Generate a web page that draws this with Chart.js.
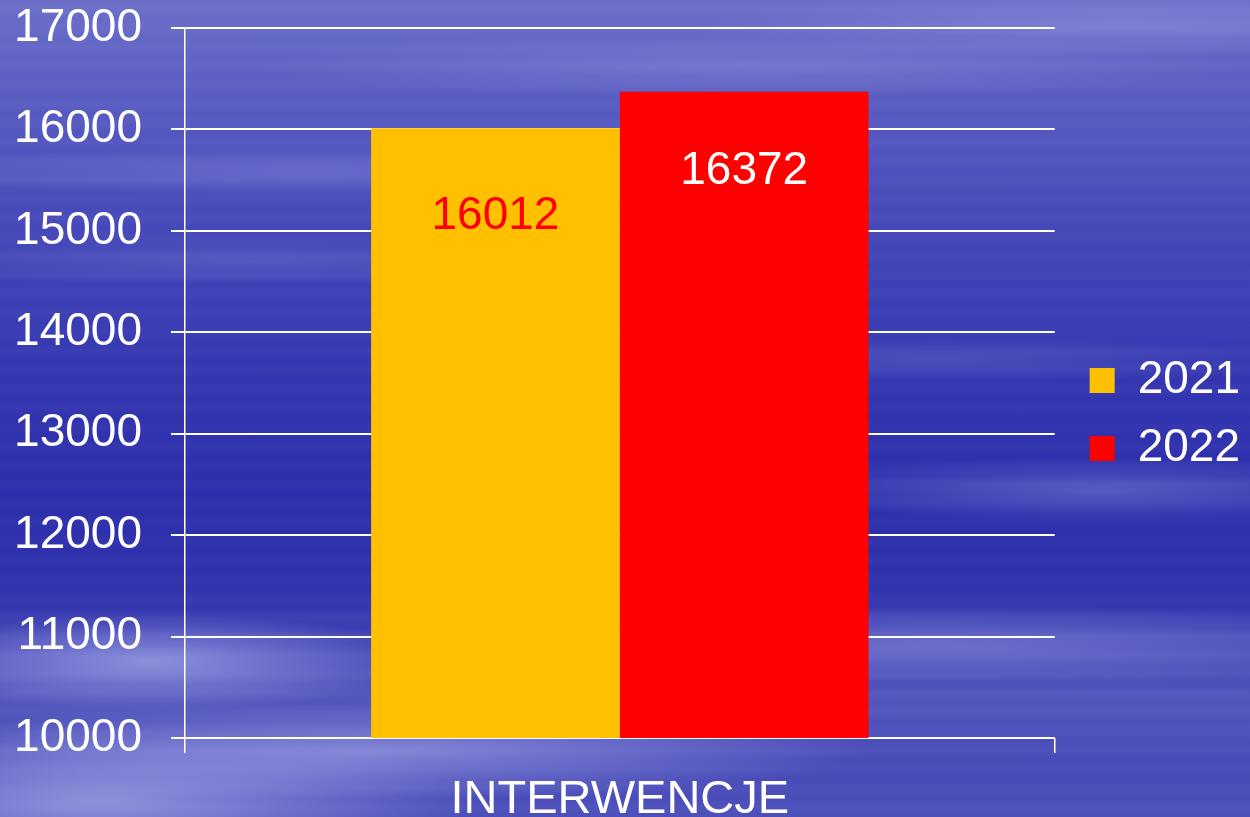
<!DOCTYPE html>
<html>
<head>
<meta charset="utf-8">
<script src="https://cdn.jsdelivr.net/npm/chart.js@4.4.0/dist/chart.umd.min.js"></script>
<style>
html,body{margin:0;padding:0;width:1250px;height:817px;overflow:hidden;}
body{
  background:
    radial-gradient(ellipse 22% 6% at 12% 81%, rgba(195,200,248,0.55), rgba(195,200,248,0) 100%),
    radial-gradient(ellipse 30% 9% at 8% 98%, rgba(185,190,242,0.60), rgba(185,190,242,0) 100%),
    radial-gradient(ellipse 40% 6% at 30% 92%, rgba(175,180,238,0.55), rgba(175,180,238,0) 100%),
    radial-gradient(ellipse 45% 5% at 75% 79%, rgba(160,165,230,0.45), rgba(160,165,230,0) 100%),
    radial-gradient(ellipse 28% 4% at 88% 60%, rgba(150,155,225,0.40), rgba(150,155,225,0) 100%),
    radial-gradient(ellipse 30% 3% at 75% 44%, rgba(140,145,220,0.25), rgba(140,145,220,0) 100%),
    radial-gradient(ellipse 30% 3% at 20% 32%, rgba(140,145,220,0.25), rgba(140,145,220,0) 100%),
    radial-gradient(ellipse 40% 3% at 25% 21%, rgba(150,155,225,0.35), rgba(150,155,225,0) 100%),
    radial-gradient(ellipse 40% 4% at 60% 8%, rgba(150,155,225,0.35), rgba(150,155,225,0) 100%),
    radial-gradient(ellipse 35% 4% at 90% 3%, rgba(160,165,230,0.35), rgba(160,165,230,0) 100%),
    repeating-linear-gradient(to bottom, rgba(255,255,255,0.00) 0px, rgba(255,255,255,0.03) 9px, rgba(255,255,255,0.00) 19px),
    linear-gradient(to bottom, #6a6ec8 0%, #5659c0 14%, #4447b8 28%, #3336b0 45%, #2b2dab 60%, #2f31ad 72%, #5255bc 86%, #4649b7 94%, #4c4fba 100%);
}
#wrap{position:absolute;left:0;top:0;width:1250px;height:817px;}
</style>
</head>
<body>
<div id="wrap"><canvas id="c" width="1250" height="817"></canvas></div>
<script>
const categories = ['INTERWENCJE'];
const seriesNames = ['2021', '2022'];
const values2021 = [16012];
const values2022 = [16372];
const yTickValues = [10000, 11000, 12000, 13000, 14000, 15000, 16000, 17000];
const seriesColors = ['#FFC000', '#FF0000'];
const labelColors = ['#FF0000', '#FFFFFF'];

const FONT = '"Liberation Sans", Arial, Helvetica, sans-serif';

const valueLabels = {
  id: 'valueLabels',
  afterDatasetsDraw(chart) {
    const ctx = chart.ctx;
    ctx.save();
    ctx.font = '46px ' + FONT;
    ctx.textAlign = 'center';
    ctx.textBaseline = 'middle';
    chart.data.datasets.forEach((ds, i) => {
      const meta = chart.getDatasetMeta(i);
      meta.data.forEach((el, j) => {
        ctx.fillStyle = ds.labelColor;
        ctx.fillText(String(ds.data[j]), el.x, el.y + ds.labelOffset);
      });
    });
    ctx.restore();
  }
};

new Chart(document.getElementById('c'), {
  type: 'bar',
  data: {
    labels: categories,
    datasets: [
      { label: seriesNames[0], data: values2021, backgroundColor: seriesColors[0], borderWidth: 0, labelColor: labelColors[0], labelOffset: 88 },
      { label: seriesNames[1], data: values2022, backgroundColor: seriesColors[1], borderWidth: 0, labelColor: labelColors[1], labelOffset: 80 }
    ]
  },
  options: {
    responsive: false,
    animation: false,
    layout: { padding: { left: 14, top: 0, right: 0, bottom: 0 } },
    datasets: { bar: { categoryPercentage: 0.572, barPercentage: 1.0 } },
    plugins: {
      tooltip: { enabled: false },
      legend: {
        position: 'right',
        title: { display: true, text: ' ', padding: 0, font: { size: 12, lineHeight: 1 } },
        labels: {
          color: '#FFFFFF',
          font: { family: FONT, size: 46 },
          boxWidth: 25,
          boxHeight: 25,
          padding: 22
        }
      }
    },
    scales: {
      x: {
        offset: true,
        grid: { display: true, drawOnChartArea: false, drawTicks: true, tickLength: 15, color: '#FFFFFF', lineWidth: 1.5, offset: true },
        border: { display: false },
        ticks: { color: '#FFFFFF', font: { family: FONT, size: 47, lineHeight: 1.1 }, padding: 21 },
        afterFit(scale) { scale.height = 79; }
      },
      y: {
        min: 10000,
        max: 17000,
        afterBuildTicks(scale) { scale.ticks = yTickValues.map(v => ({ value: v })); },
        grid: { color: '#FFFFFF', lineWidth: 2, tickLength: 14, drawTicks: true },
        border: { display: true, color: '#FFFFFF', width: 1.5 },
        ticks: { color: '#FFFFFF', font: { family: FONT, size: 46 }, padding: 29, callback: v => String(v) },
        afterFit(scale) { scale.width = 171; scale.paddingTop = 28; scale.paddingBottom = 0; }
      },
      gap: {
        type: 'linear',
        position: 'right',
        display: true,
        grid: { display: false },
        border: { display: false },
        ticks: { display: false },
        afterFit(scale) { scale.width = 13; }
      }
    }
  },
  plugins: [valueLabels]
});
</script>
</body>
</html>
